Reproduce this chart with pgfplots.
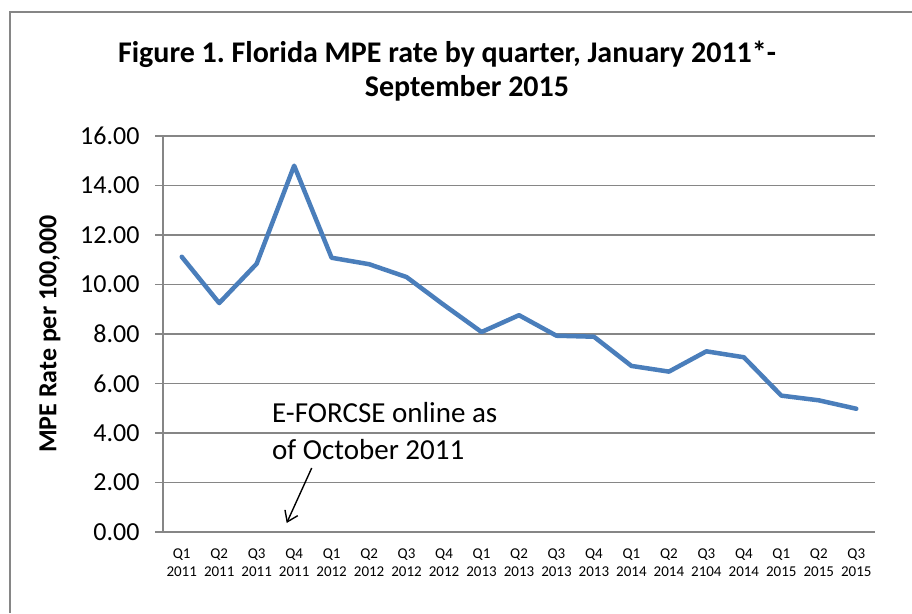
\documentclass[border=0pt]{standalone}
\usepackage{pgfplots}
\pgfplotsset{compat=1.18}
\usepackage{fontspec}
\setmainfont{Carlito}
\usetikzlibrary{arrows.meta}
\definecolor{gridgray}{HTML}{868686}
\definecolor{excelblue}{HTML}{4A7EBB}
\frenchspacing
\begin{document}
\begin{tikzpicture}[x=1pt,y=1pt]
\useasboundingbox (0,0) rectangle (912,613);
\draw[gridgray, line width=1.5pt] (10,0) -- (10,601) -- (912,601);
\begin{axis}[
  at={(163pt,81pt)}, anchor=south west,
  scale only axis, width=712pt, height=396pt,
  xmin=-0.5, xmax=18.5, ymin=0, ymax=16,
  axis lines=left, axis line style={-, gridgray, line width=1.3pt},
  ytick={0,2,...,16},
  yticklabels={0.00,2.00,4.00,6.00,8.00,10.00,12.00,14.00,16.00},
  yticklabel style={font=\fontsize{26}{30}\selectfont, xshift=-12pt},
  xtick={0,...,18},
  xticklabels={Q1\\2011,Q2\\2011,Q3\\2011,Q4\\2011,Q1\\2012,Q2\\2012,Q3\\2012,Q4\\2012,Q1\\2013,Q2\\2013,Q3\\2013,Q4\\2013,Q1\\2014,Q2\\2014,Q3\\2104,Q4\\2014,Q1\\2015,Q2\\2015,Q3\\2015},
  xticklabel style={align=center, font=\fontsize{15}{18.5}\selectfont, yshift=-5pt},
  xtick style={draw=none},
  minor xtick={-0.5,0.5,...,18.5},
  minor tick length=6pt, major tick length=8pt,
  tick align=outside,
  tick style={gridgray, line width=1.3pt},
  ymajorgrids, grid style={gridgray, line width=1.3pt},
  clip=false,
]
\addplot[excelblue, line width=4.5pt, line join=round, line cap=round] coordinates {
(0,11.12) (1,9.25) (2,10.84) (3,14.80) (4,11.08) (5,10.82) (6,10.30) (7,9.17)
(8,8.08) (9,8.76) (10,7.93) (11,7.89) (12,6.71) (13,6.48) (14,7.30) (15,7.06)
(16,5.51) (17,5.32) (18,4.98)};
\end{axis}
\node[font=\bfseries\fontsize{30}{34}\selectfont, anchor=base] at (447,550) {Figure 1. Florida MPE rate by quarter, January 2011*-};
\node[font=\bfseries\fontsize{30}{34}\selectfont, anchor=base] at (467,516) {September 2015};
\node[font=\bfseries\fontsize{26}{30}\selectfont, rotate=90] at (50,279) {MPE Rate per 100,000};
\node[font=\fontsize{29}{33}\selectfont, anchor=base west, inner sep=0pt] at (272,190) {E-FORCSE online as};
\node[font=\fontsize{29}{33}\selectfont, anchor=base west, inner sep=0pt] at (272,153) {of October 2011};
\draw[line width=1.4pt, -{Straight Barb[length=10pt, width=14pt]}] (311.7,145) -- (286.7,90);
\end{tikzpicture}
\end{document}
